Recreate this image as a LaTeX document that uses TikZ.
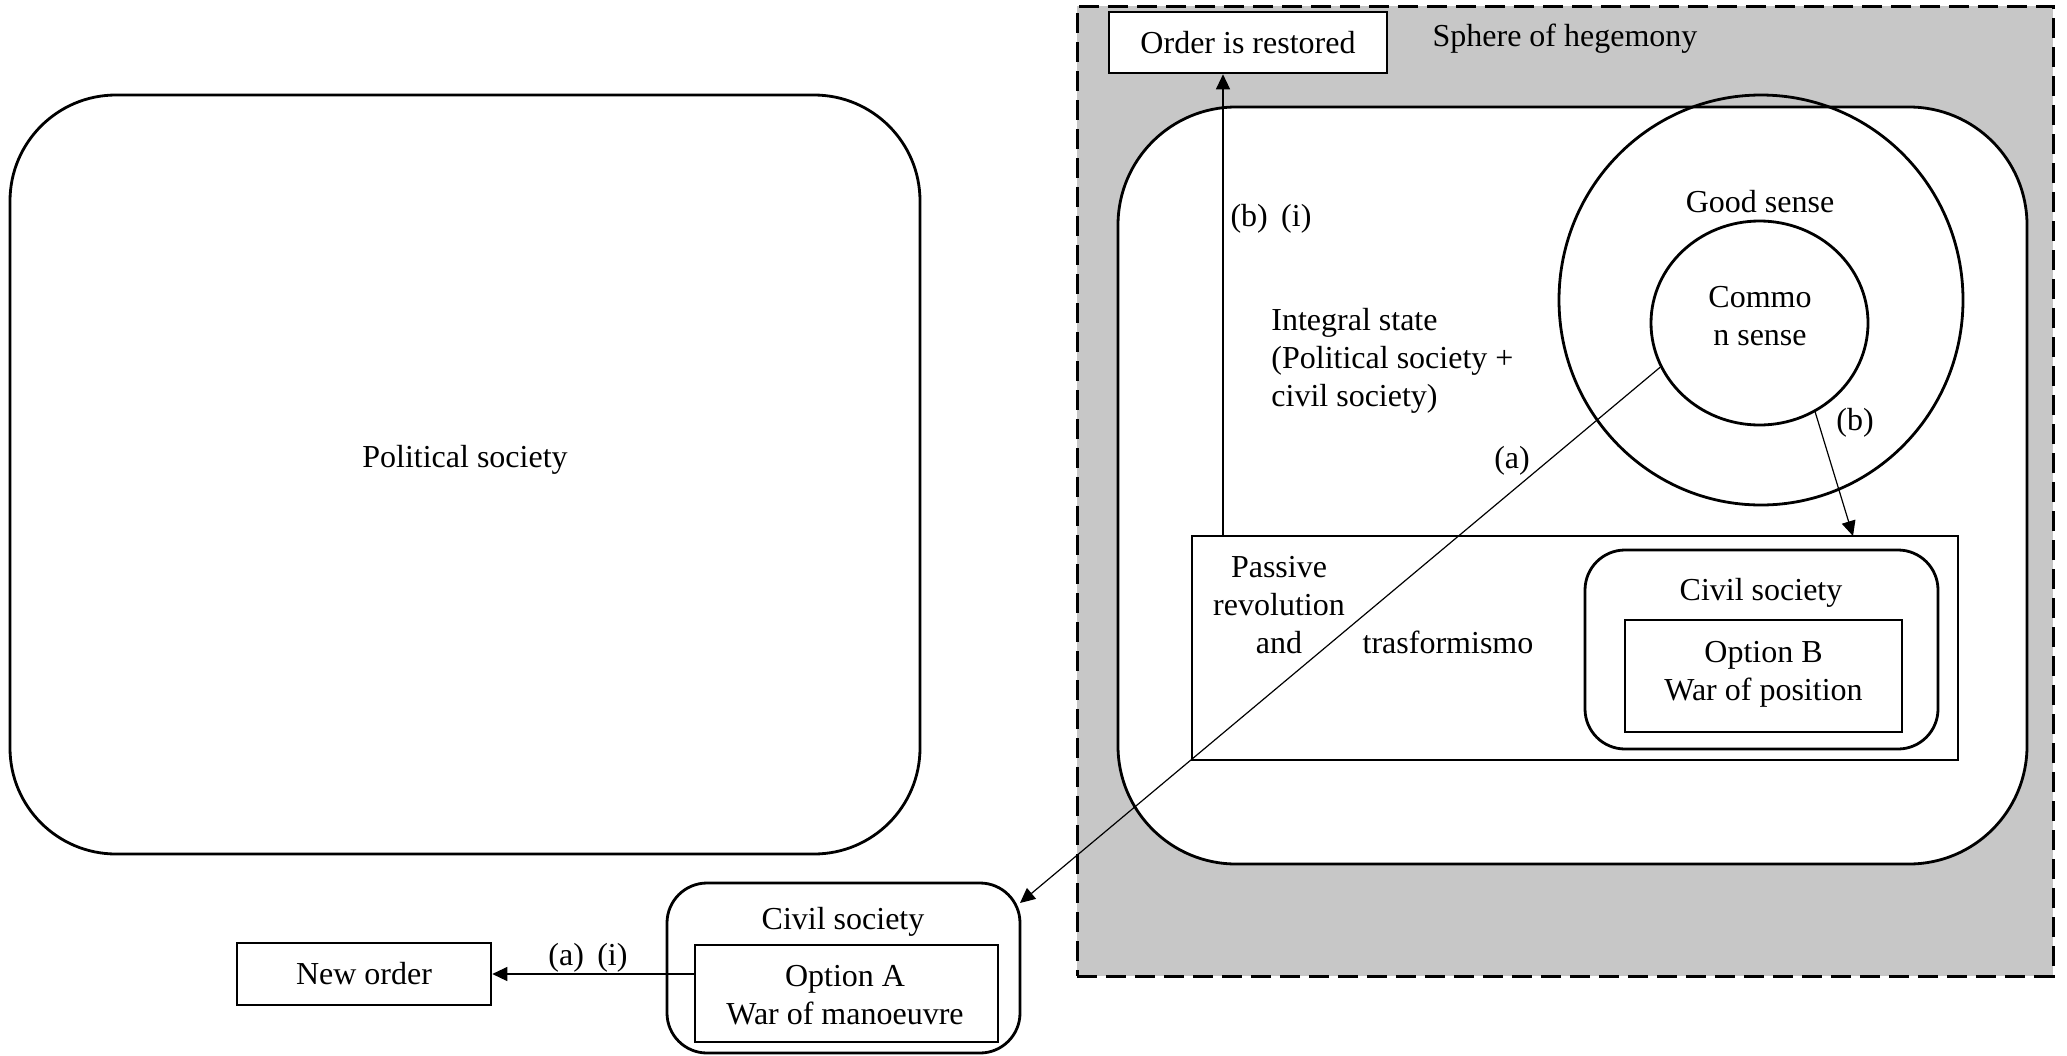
\documentclass[tikz,border=0pt]{standalone}
\usepackage{fontspec}
\setmainfont{Liberation Serif}
\usetikzlibrary{arrows.meta,shapes.geometric,calc}
\begin{document}
\begin{tikzpicture}[x=0.5pt,y=-0.5pt,
  every node/.style={font=\fontsize{16}{19}\selectfont},
  txt/.style={inner sep=0pt, align=center},
  shapebox/.style={draw, line width=1.4pt, inner sep=0pt},
  roundbig/.style={shapebox, rounded corners=#1},
  sqbox/.style={shapebox, line width=1.3pt, fill=white},
  ring/.style={draw, ellipse, line width=1.4pt, inner sep=0pt},
  arr/.style={line width=0.6pt, -{Triangle[length=7.5pt,width=7pt]}}
]
\useasboundingbox (0,0) rectangle (2067,1055);

% sphere of hegemony
\node[draw, line width=1.5pt, dash pattern=on 10pt off 4.5pt, fill=black!22,
      minimum width=488pt, minimum height=485pt, inner sep=0pt] (sphere) at (1565,491) {};
\node[txt] (spheretxt) at (1565,39) {Sphere of hegemony};

% integral state
\node[roundbig=59pt, fill=white, minimum width=454.5pt, minimum height=378.5pt] (integral) at (1572.5,485.5) {};
\node[txt, align=left, anchor=west] (inttxt) at (1271,361) {Integral state\\(Political society +\\civil society)};

% political society
\node[roundbig=53pt, minimum width=455pt, minimum height=379.5pt] (polsoc) at (465,474.5) {};
\node[txt] (poltxt) at (465,460) {Political society};

% order restored
\node[sqbox, minimum width=139pt, minimum height=30.5pt] (order) at (1248,42.5) {Order is restored};

% circles
\node[ring, minimum width=202pt, minimum height=205pt] (outer) at (1761,300) {};
\node[ring, minimum width=108.5pt, minimum height=102pt] (inner) at (1759.5,323) {};
\node[txt] (goodtxt) at (1760,202) {Good sense};
\node[txt] (commontxt) at (1760,316) {Commo\\n sense};

% passive revolution box
\node[shapebox, minimum width=383pt, minimum height=112pt] (passive) at (1575,648) {};
\node[txt] (passtxt) at (1279,605) {Passive\\revolution\\and};
\node[txt] (trastxt) at (1448,642) {trasformismo};

% civil society B
\node[roundbig=20pt, minimum width=176.5pt, minimum height=99.5pt] (civB) at (1761.5,649.5) {};
\node[txt] (civBtxt) at (1761,593) {Civil society};
\node[sqbox, minimum width=138.5pt, minimum height=56pt] (optB) at (1763.5,676) {};
\node[txt] (optBtxt) at (1763.5,674) {Option B\\War of position};

% civil society A
\node[roundbig=20pt, fill=white, minimum width=176.5pt, minimum height=85pt] (civA) at (843.5,968) {};
\node[txt] (civAtxt) at (843,922) {Civil society};
\node[sqbox, minimum width=151.5pt, minimum height=48.5pt] (optA) at (846.5,993.5) {};
\node[txt] (optAtxt) at (845,995) {Option A\\War of manoeuvre};

% new order
\node[sqbox, minimum width=127pt, minimum height=31pt] (neworder) at (364,974) {New order};

% labels
\node[txt] (bitxt) at (1271,219) {(b)\ \,(i)};
\node[txt] (btxt) at (1855,423) {(b)};
\node[txt] (atxt) at (1512,461) {(a)};
\node[txt] (aitxt) at (588,958) {(a)\ \,(i)};

% connectors
\coordinate (bistart) at (1223,536);
\coordinate (bend) at (1853,536);
\coordinate (aend) at (1020,903);
\draw[arr] (bistart) -- (bistart |- order.south);
\draw[arr] (inner.302) -- (bend);
\draw[arr] (inner.204) -- (aend);
\draw[arr] (neworder.east -| optA.west) -- (neworder.east);
\end{tikzpicture}
\end{document}
